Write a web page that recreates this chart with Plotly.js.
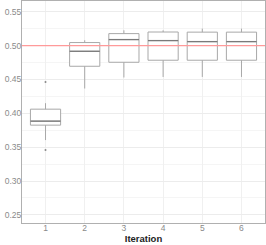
<!DOCTYPE html>
<html><head><meta charset="utf-8">
<script src="https://cdn.plot.ly/plotly-3.0.1.min.js"></script>
<style>html,body{margin:0;padding:0;background:#fff}#c{width:266px;height:245px}</style>
</head><body><div id="c"></div>
<script>
const iterations = [1, 2, 3, 4, 5, 6];
const q1 = [0.3826, 0.4696, 0.4755, 0.4785, 0.4785, 0.4785];
const medians = [0.3885, 0.4917, 0.5090, 0.5075, 0.5060, 0.5060];
const q3 = [0.4062, 0.5046, 0.5178, 0.5202, 0.5200, 0.5200];
const lowerWhisker = [0.3605, 0.4367, 0.4530, 0.4538, 0.4538, 0.4538];
const upperWhisker = [0.4150, 0.5080, 0.5227, 0.5227, 0.5252, 0.5252];
const outlierX = [1, 1];
const outlierY = [0.4465, 0.3457];
const refLine = 0.50;

const boxW = 0.77;
const traces = [{
  type: 'box', x: iterations, q1: q1, median: medians, q3: q3,
  lowerfence: lowerWhisker, upperfence: upperWhisker,
  width: boxW, whiskerwidth: 0, fillcolor: '#ffffff',
  line: {color: '#a8a8a8', width: 1}, boxpoints: false, hoverinfo: 'skip'
}];
iterations.forEach((it, i) => {
  traces.push({type: 'scatter', mode: 'lines', x: [it - boxW/2, it + boxW/2], y: [medians[i], medians[i]],
    line: {color: '#7a7a7a', width: 1.3}, hoverinfo: 'skip'});
});
traces.push({type: 'scatter', mode: 'markers', x: outlierX, y: outlierY,
  marker: {color: '#888', size: 2}, hoverinfo: 'skip'});
traces.push({type: 'scatter', mode: 'lines', x: [0.4, 6.6], y: [refLine, refLine],
  line: {color: '#ff9a9a', width: 1.2}, hoverinfo: 'skip'});

const fam = '"Liberation Sans Narrow", "Arial Narrow", "Liberation Sans", sans-serif';
const tf = {family: fam, size: 8.5, color: '#8a8a8a'};
const layout = {
  width: 266, height: 245, showlegend: false,
  margin: {l: 22, r: 1, t: 1, b: 22},
  paper_bgcolor: '#fff', plot_bgcolor: '#fff',
  xaxis: {range: [0.4, 6.6], tickvals: iterations, ticktext: iterations.map(String),
    showgrid: true, gridcolor: '#f0f0f0', gridwidth: 1, zeroline: false,
    showline: true, linecolor: '#b0b0b0', linewidth: 1, mirror: true,
    ticks: '', ticklabelstandoff: -3, tickfont: tf,
    title: {text: '<b>Iteration</b>', standoff: 0, font: {family: fam, size: 9.5, color: '#222'}}},
  yaxis: {range: [0.238, 0.566], dtick: 0.05, tick0: 0.25, tickformat: '.2f',
    showgrid: true, gridcolor: '#ececec', gridwidth: 1, zeroline: false,
    minor: {dtick: 0.025, showgrid: true, gridcolor: '#f5f5f5', gridwidth: 1},
    showline: true, linecolor: '#b0b0b0', linewidth: 1, mirror: true,
    ticks: '', ticklen: 0, ticklabelstandoff: -2, tickfont: tf}
};
Plotly.newPlot('c', traces, layout, {staticPlot: true});
</script></body></html>
